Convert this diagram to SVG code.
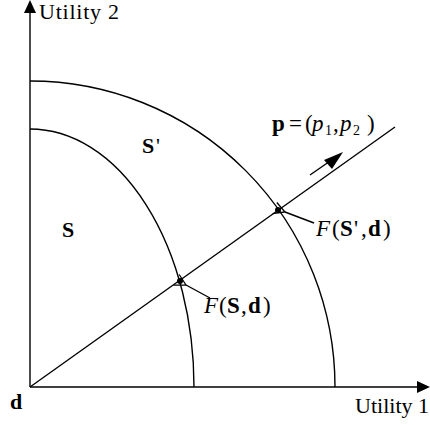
<svg xmlns="http://www.w3.org/2000/svg" width="430" height="425" viewBox="0 0 430 425">
<style>
.ln{fill:none;stroke:#000;stroke-width:1.4}
.t{font-family:"Liberation Serif","Times New Roman",serif;font-size:22px;fill:#000}
.m{font-size:23px}
.b{font-weight:bold}
.i{font-style:italic}
.sub{font-size:14px}
</style>
<defs>
<marker id="open" markerWidth="14" markerHeight="14" refX="1" refY="7" orient="auto" markerUnits="userSpaceOnUse">
<path d="M12,1 L1,7 L12,13" fill="none" stroke="#000" stroke-width="1.3"/>
</marker>
</defs>
<g id="axes">
<line class="ln" x1="30" y1="387" x2="30" y2="10"/>
<polygon points="30,0 24,13 36,13" fill="#000"/>
<line class="ln" x1="30" y1="387" x2="420" y2="387"/>
<polygon points="430,387 417,381 417,393" fill="#000"/>
</g>
<g id="curves">
<path class="ln" d="M30,129 A164,258 0 0 1 194,387"/>
<path class="ln" d="M30,81 A305,306 0 0 1 335,387"/>
</g>
<g id="connectors">
<line class="ln" x1="30" y1="387" x2="395" y2="127"/>
<line class="ln" x1="310" y1="175" x2="333" y2="159"/>
<polygon points="343,152 324,160 332,169" fill="#000"/>
<line class="ln" x1="314" y1="223" x2="285" y2="212" marker-end="url(#open)"/>
<line class="ln" x1="210" y1="298" x2="186" y2="285" marker-end="url(#open)"/>
</g>
<g id="dots">
<circle cx="180" cy="281" r="3" fill="#000"/>
<circle cx="278" cy="210" r="3" fill="#000"/>
</g>
<g id="labels">
<text class="t" x="39" y="19" textLength="80" lengthAdjust="spacing">Utility 2</text>
<text class="t" x="355" y="413" textLength="74" lengthAdjust="spacing">Utility 1</text>
<text class="t b" x="10" y="409" font-size="19">d</text>
<text class="t b" x="62" y="237">S</text>
<text class="t" x="142" y="153"><tspan class="b">S</tspan><tspan x="156">'</tspan></text>
<text class="t m" y="131"><tspan class="b" x="272">p</tspan><tspan x="289">=</tspan><tspan x="305">(</tspan><tspan class="i" x="312">p</tspan><tspan class="sub" x="325" dy="4">1</tspan><tspan x="333" dy="-4">,</tspan><tspan class="i" x="340">p</tspan><tspan class="sub" x="353" dy="4">2</tspan><tspan x="367" dy="-4">)</tspan></text>
<text class="t m" y="236"><tspan class="i" x="316">F</tspan><tspan x="332">(</tspan><tspan class="b" x="340">S</tspan><tspan x="354">'</tspan><tspan x="361">,</tspan><tspan class="b" x="368">d</tspan><tspan x="383">)</tspan></text>
<text class="t m" y="313"><tspan class="i" x="204">F</tspan><tspan x="219">(</tspan><tspan class="b" x="227">S</tspan><tspan x="241">,</tspan><tspan class="b" x="248">d</tspan><tspan x="263">)</tspan></text>
</g>
</svg>
